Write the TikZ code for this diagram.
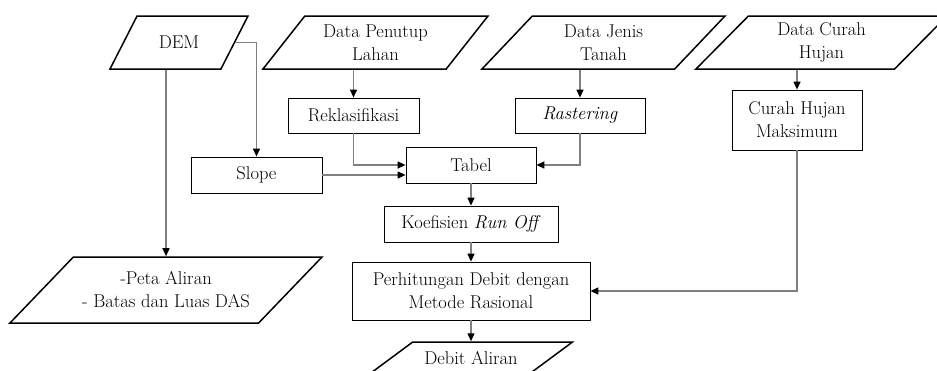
\documentclass[tikz,border=0pt]{standalone}
\usetikzlibrary{shapes.geometric, arrows.meta}
\begin{document}
\begin{tikzpicture}[x=1pt, y=-1pt,
    txt/.style = {font=\fontsize{18.5}{23}\selectfont, align=center},
    proc/.style = {txt, draw=black, line width=0.8pt, inner sep=2pt},
    data/.style = {txt, trapezium, trapezium stretches body, draw=black, line width=1.5pt, inner sep=1pt,
                   trapezium left angle=#1, trapezium right angle=180-#1},
    arr/.style = {draw=black!50, line width=1.3pt, -{Triangle[length=8pt, width=7pt, color=black]}}]
    \useasboundingbox (0,0) rectangle (937,370);

    % data
    \node[data=28.4, minimum width=138, minimum height=53] (dem) at (179,42.5) {DEM};
    \node[data=42.1, minimum width=225, minimum height=53] (penutup) at (375.5,42.5) {Data Penutup\\Lahan};
    \node[data=36.9, minimum width=243, minimum height=53] (jenis) at (603.5,42.5) {Data Jenis\\Tanah};
    \node[data=38.5, minimum width=251, minimum height=53] (curah) at (821.5,42.5) {Data Curah\\Hujan};
    \node[data=31.2, minimum width=312, minimum height=66] (peta) at (166,290) {-Peta Aliran\\- Batas dan Luas DAS};
    \node[data=19.4, minimum width=203, minimum height=32] (debit) at (471,358) {Debit Aliran};

    % processes
    \node[proc, minimum width=131, minimum height=35] (rekl) at (353.5,115.5) {Reklasifikasi};
    \node[proc, minimum width=130, minimum height=35] (raster) at (580,115.5) {\textit{Rastering}};
    \node[proc, minimum width=130, minimum height=60] (maks) at (797,120) {Curah Hujan\\Maksimum};
    \node[proc, minimum width=131, minimum height=36] (slope) at (256.5,175) {Slope};
    \node[proc, minimum width=130, minimum height=36] (tabel) at (471,165) {Tabel};
    \node[proc, minimum width=174, minimum height=36] (koef) at (471,224) {Koefisien \textit{Run Off}};
    \node[proc, minimum width=238, minimum height=58] (perh) at (471,291) {Perhitungan Debit dengan\\Metode Rasional};

    % arrows
    \draw[arr] (dem.east) -| (slope.north);
    \draw[arr] (dem.south -| peta.north) -- (peta.north);
    \draw[arr] (penutup.south -| rekl.north) -- (rekl.north);
    \draw[arr] (jenis.south -| raster.north) -- (raster.north);
    \draw[arr] (curah.south -| maks.north) -- (maks.north);
    \draw[arr] (rekl.south) |- (tabel.west);
    \draw[arr] (slope.east) -- (slope.east -| tabel.west);
    \draw[arr] (raster.south) |- (tabel.east);
    \draw[arr] (tabel) -- (koef);
    \draw[arr] (koef) -- (perh);
    \draw[arr] (perh) -- (debit);
    \draw[arr] (maks.south) |- (perh.east);
\end{tikzpicture}
\end{document}
